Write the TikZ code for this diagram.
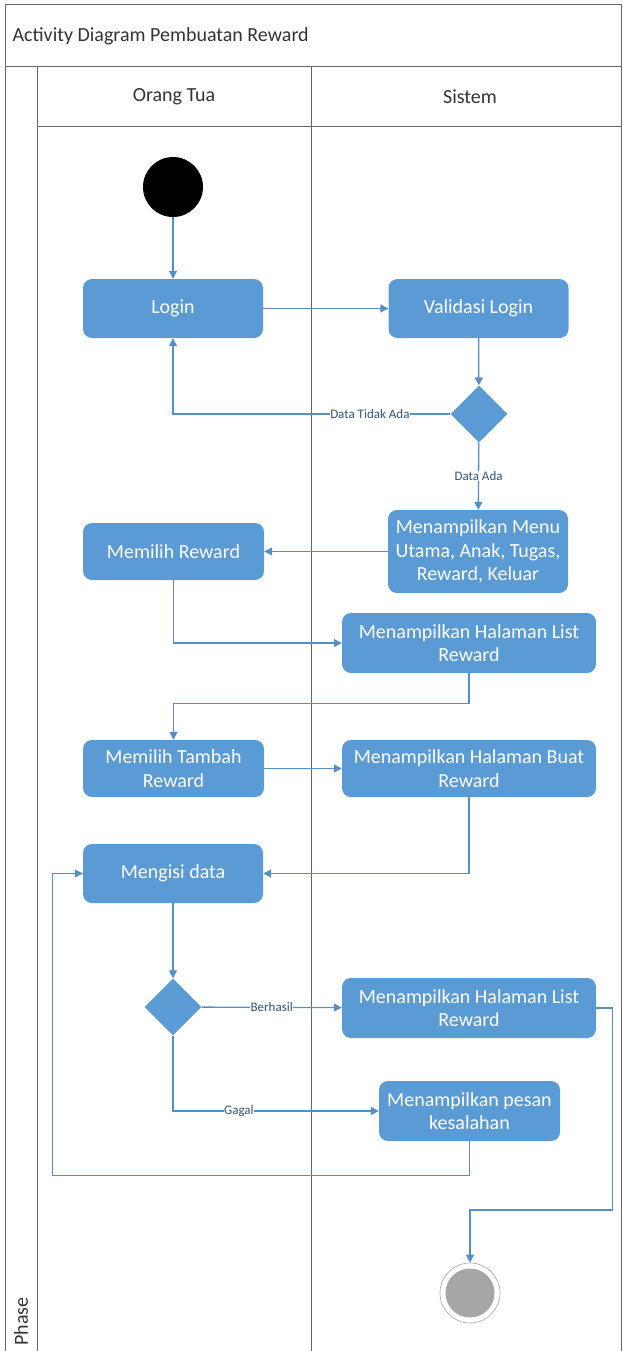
\documentclass[tikz,border=0pt]{standalone}
\usepackage{fontspec}
\setmainfont{Carlito}
\usetikzlibrary{arrows.meta, shapes.geometric, calc}
\definecolor{actblue}{RGB}{91,155,213}
\definecolor{lineblue}{RGB}{88,142,200}
\definecolor{lanegray}{RGB}{100,100,118}
\definecolor{endgray}{RGB}{166,166,166}

\begin{document}
\begin{tikzpicture}[x=1pt, y=-1pt,
  act/.style={rectangle, rounded corners=9pt, fill=actblue, text=white,
    font=\fontsize{20}{23.5}\selectfont, align=center, inner sep=2pt},
  decision/.style={diamond, fill=actblue, minimum width=57pt,
    minimum height=57pt, inner sep=0pt},
  flow/.style={draw=lineblue, line width=1.3pt, -{Triangle[length=8pt,width=8pt]}},
  lbl/.style={fill=white, inner sep=0.5pt, text=lineblue!60!black,
    font=\fontsize{13}{13}\selectfont},
  lane/.style={draw=lanegray, line width=1pt},
  head/.style={font=\fontsize{20}{23}\selectfont, text=black!80}]
  \useasboundingbox (0,0) rectangle (623,1351);

  % swimlane frame
  \draw[lane] (5,1360) -- (5,5) -- (621.5,5) -- (621.5,1360);
  \draw[lane] (5,67) -- (621.5,67);
  \draw[lane] (37,67) -- (37,1360);
  \draw[lane] (37,127) -- (621.5,127);
  \draw[lane] (311,67) -- (311,1360);
  \node[head, anchor=west] (title) at (9,36) {Activity Diagram Pembuatan Reward};
  \node[head] (ortu) at (174,97) {Orang Tua};
  \node[head] (sistem) at (470,97) {Sistem};
  \node[head, rotate=90, anchor=west] (phase) at (21,1349) {Phase};

  % activities
  \node[circle, fill=black, minimum size=60pt, inner sep=0pt] (start) at (173,187) {};
  \node[act, minimum width=180pt, minimum height=59pt] (login) at (173,308.5) {Login};
  \node[act, minimum width=180pt, minimum height=59pt] (valid) at (478.5,308.5) {Validasi Login};
  \node[decision] (cek) at (479,414) {};
  \node[act, minimum width=180pt, minimum height=83pt] (menu) at (478,551.5)
    {Menampilkan Menu\\Utama, Anak, Tugas,\\Reward, Keluar};
  \node[act, minimum width=181pt, minimum height=57pt] (pilih) at (173.5,551.5) {Memilih Reward};
  \node[act, minimum width=254pt, minimum height=60pt] (list) at (469,643)
    {Menampilkan Halaman List\\Reward};
  \node[act, minimum width=181pt, minimum height=57pt] (tambah) at (173.5,768.5)
    {Memilih Tambah\\Reward};
  \node[act, minimum width=254pt, minimum height=57pt] (buat) at (469,768.5)
    {Menampilkan Halaman Buat\\Reward};
  \node[act, minimum width=180pt, minimum height=59pt] (isi) at (173,873.5) {Mengisi data};
  \node[decision] (hasil) at (173,1007) {};
  \node[act, minimum width=254pt, minimum height=60pt] (listb) at (469,1008)
    {Menampilkan Halaman List\\Reward};
  \node[act, minimum width=181pt, minimum height=60pt] (pesan) at (469.5,1111)
    {Menampilkan pesan\\kesalahan};
  \node[circle, draw=black!35, line width=0.6pt, fill=white, minimum size=60pt, inner sep=0pt] (stop) at (470,1293) {};
  \node[circle, fill=endgray, minimum size=49pt, inner sep=0pt] (stopin) at (stop) {};

  % flows
  \draw[flow] (start) -- (login);
  \draw[flow] (login) -- (valid);
  \draw[flow] (valid) -- (cek);
  \draw[flow] (cek.west) -| node[lbl, pos=0.145] {Data Tidak Ada} (login.south);
  \draw[flow] (cek) -- node[lbl] {Data Ada} (menu);
  \draw[flow] (menu) -- (pilih);
  \draw[flow] (pilih.south) |- (list.west);
  \draw[flow] (list.south) -- ++(0,30) -| (tambah.north);
  \draw[flow] (tambah) -- (buat);
  \draw[flow] (buat.south) |- (isi.east);
  \draw[flow] (isi) -- (hasil);
  \draw[flow] (hasil) -- node[lbl] {Berhasil} (listb);
  \draw[flow] (hasil.south) |- node[lbl, pos=0.66] {Gagal} (pesan.west);
  \draw[flow] (pesan.south) -- ++(0,34) -| ([xshift=-30pt]isi.west) -- (isi.west);
  \draw[flow] (listb.east) -- ++(16,0) -- ++(0,202) -| (stop.north);
\end{tikzpicture}
\end{document}
